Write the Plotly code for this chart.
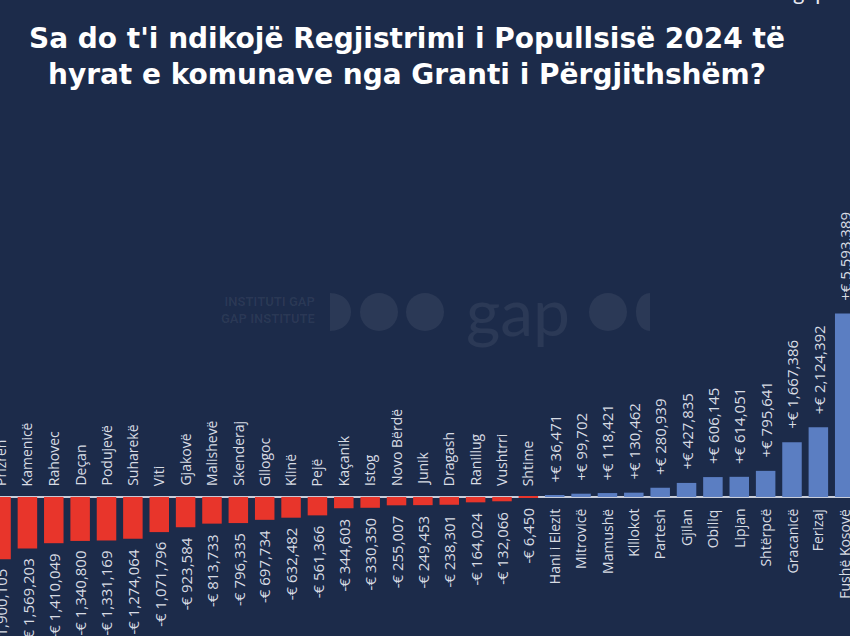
import plotly.graph_objects as go

categories = ["Prizren", "Kamenicë", "Rahovec", "Deçan", "Podujevë", "Suharekë", "Viti",
              "Gjakovë", "Malishevë", "Skenderaj", "Gllogoc", "Klinë", "Pejë", "Kaçanik",
              "Istog", "Novo Bërdë", "Junik", "Dragash", "Ranillug", "Vushtrri", "Shtime",
              "Hani i Elezit", "Mitrovicë", "Mamushë", "Klllokot", "Partesh", "Gjilan",
              "Obiliq", "Lipjan", "Shtërpcë", "Gracanicë", "Ferizaj", "Fushë Kosovë"]
values = [-1900105, -1569203, -1410049, -1340800, -1331169, -1274064, -1071796,
          -923584, -813733, -796335, -697734, -632482, -561366, -344603,
          -330350, -255007, -249453, -238301, -164024, -132066, -6450,
          36471, 99702, 118421, 130462, 280939, 427835,
          606145, 614051, 795641, 1667386, 2124392, 5593389]

title_text = "Sa do t'i ndikojë Regjistrimi i Popullsisë 2024 të<br>hyrat e komunave nga Granti i Përgjithshëm?"

BG = "#1c2b4a"
RED = "#e8352b"
BLUE = "#5b7ec2"
TXT = "#d8dce4"
WM = "rgba(255,255,255,0.065)"

TOP = 130      # top margin in px
PLOT_H = 636 - TOP


def py(pix):
    """figure pixel row -> paper y (bottom margin is 0)."""
    return (636 - pix) / PLOT_H


def fmt(v):
    sign = "-" if v < 0 else "+"
    return f"{sign}€ {abs(v):,}"


fig = go.Figure()
fig.add_trace(go.Bar(
    x=categories, y=values,
    marker=dict(color=[RED if v < 0 else BLUE for v in values], line=dict(width=0)),
    hoverinfo="skip",
))

annotations = []
for c, v in zip(categories, values):
    neg = v < 0
    annotations.append(dict(
        x=c, y=0, xref="x", yref="y", text=c, textangle=-90, showarrow=False,
        yanchor="bottom" if neg else "top", yshift=9 if neg else -10,
        font=dict(family="Open Sans", size=14, color=TXT),
    ))
    annotations.append(dict(
        x=c, y=v, xref="x", yref="y", text=fmt(v), textangle=-90, showarrow=False,
        yanchor="top" if neg else "bottom", yshift=-8 if neg else 11,
        font=dict(family="Open Sans", size=15, color=TXT),
    ))

# title
annotations.append(dict(
    x=0.479, y=py(57), xref="paper", yref="paper", showarrow=False,
    text=title_text, xanchor="center", yanchor="middle", align="center",
    font=dict(family="DejaVu Sans", size=28, color="#ffffff", weight="bold"),
))

# partial logo at the top-right edge
annotations.append(dict(
    x=0.954, y=py(-9), xref="paper", yref="paper", showarrow=False,
    text="gap", xanchor="center", yanchor="middle",
    font=dict(family="Lato", size=22, color="#e6e9ef"),
))

# faint watermark
annotations.append(dict(
    x=318 / 850, y=py(310), xref="paper", yref="paper", showarrow=False,
    text="<b>INSTITUTI GAP<br>GAP INSTITUTE</b>", align="right",
    xanchor="right", yanchor="middle",
    font=dict(family="Roboto", size=13, color=WM),
))
annotations.append(dict(
    x=0.609, y=py(310), xref="paper", yref="paper", showarrow=False,
    text="gap", xanchor="center", yanchor="middle",
    font=dict(family="Lato", size=66, color=WM),
))

shapes = []
r_x, r_y = 19 / 850, 19 / PLOT_H
for cx_pix in [379, 425, 608]:
    cx = cx_pix / 850
    shapes.append(dict(type="circle", xref="paper", yref="paper",
                       x0=cx - r_x, x1=cx + r_x, y0=py(312) - r_y, y1=py(312) + r_y,
                       fillcolor=WM, line=dict(width=0), layer="below"))
# half discs
y0, y1 = py(331), py(293)
xl = 330 / 850
shapes.append(dict(type="path", xref="paper", yref="paper", layer="below",
                   path=f"M {xl},{y1} C {xl + 0.033},{y1} {xl + 0.033},{y0} {xl},{y0} Z",
                   fillcolor=WM, line=dict(width=0)))
xr = 650 / 850
shapes.append(dict(type="path", xref="paper", yref="paper", layer="below",
                   path=f"M {xr},{y1} C {xr - 0.022},{y1} {xr - 0.022},{y0} {xr},{y0} Z",
                   fillcolor=WM, line=dict(width=0)))

fig.update_layout(
    width=850, height=636,
    paper_bgcolor=BG, plot_bgcolor=BG,
    margin=dict(l=0, r=0, t=TOP, b=0),
    showlegend=False,
    bargap=0.26,
    xaxis=dict(type="category", range=[-0.04, 32.2], showticklabels=False,
               showgrid=False, zeroline=False, showline=False),
    yaxis=dict(range=[-4.24e6, 11.19e6], showticklabels=False, showgrid=False,
               zeroline=True, zerolinecolor="#c9ceda", zerolinewidth=2),
    annotations=annotations,
    shapes=shapes,
)

fig.write_html("out.html")
